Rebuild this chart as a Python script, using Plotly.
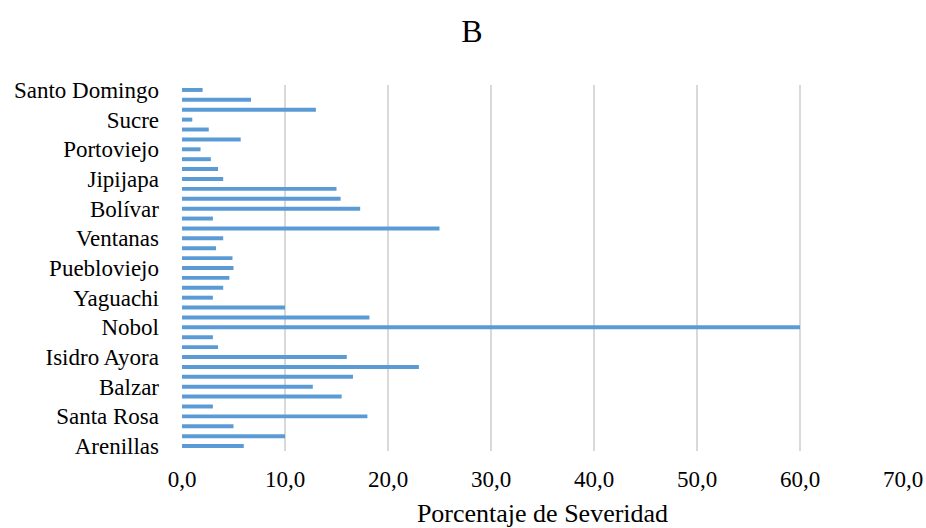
import plotly.graph_objects as go

# Category labels shown on the axis (every third category, bottom to top)
labeled_names = ["Arenillas", "Santa Rosa", "Balzar", "Isidro Ayora", "Nobol",
                 "Yaguachi", "Puebloviejo", "Ventanas", "Bolívar", "Jipijapa",
                 "Portoviejo", "Sucre", "Santo Domingo"]

# Severity values, bottom (index 0) to top (index 36)
values = [6.0, 10.0, 5.0, 18.0, 3.0, 15.5, 12.7, 16.6, 23.0, 16.0,
          3.5, 3.0, 60.0, 18.2, 10.0, 3.0, 4.0, 4.6, 5.0, 4.9,
          3.3, 4.0, 25.0, 3.0, 17.3, 15.4, 15.0, 4.0, 3.5, 2.8,
          1.8, 5.7, 2.6, 1.0, 13.0, 6.7, 2.0]

positions = list(range(len(values)))
tick_positions = positions[::3]

x_ticks = [0, 10, 20, 30, 40, 50, 60, 70]
x_ticktext = ["0,0", "10,0", "20,0", "30,0", "40,0", "50,0", "60,0", "70,0"]

font_family = "Liberation Serif, Times New Roman, serif"

fig = go.Figure(go.Bar(
    x=values, y=positions, orientation="h",
    marker=dict(color="#5b9bd5", line=dict(width=0)),
    width=0.4,
))

fig.update_layout(
    width=926, height=528,
    margin=dict(l=182, r=23, t=85, b=77),
    paper_bgcolor="white", plot_bgcolor="white",
    title=dict(text="B", x=472 / 926, xanchor="center", y=1 - 31 / 528, yanchor="middle",
               font=dict(family=font_family, size=32, color="#000")),
    showlegend=False,
    font=dict(family=font_family, color="#000"),
    xaxis=dict(range=[0, 70], tickvals=x_ticks, ticktext=x_ticktext,
               showgrid=True, gridcolor="#d9d9d9", gridwidth=2,
               zeroline=False, showline=False, automargin=False,
               tickfont=dict(size=23, family=font_family, color="#000"),
               ticks="", ticklabelstandoff=12,
               title=dict(text="Porcentaje de Severidad",
                          font=dict(size=26, family=font_family, color="#000"),
                          standoff=14)),
    yaxis=dict(range=[-0.5, 36.5], tickvals=tick_positions, ticktext=labeled_names,
               showgrid=False, zeroline=False, showline=False, ticks="",
               automargin=False,
               tickfont=dict(size=23, family=font_family, color="#000"),
               ticklabelstandoff=22),
)

fig.write_html("out.html")
